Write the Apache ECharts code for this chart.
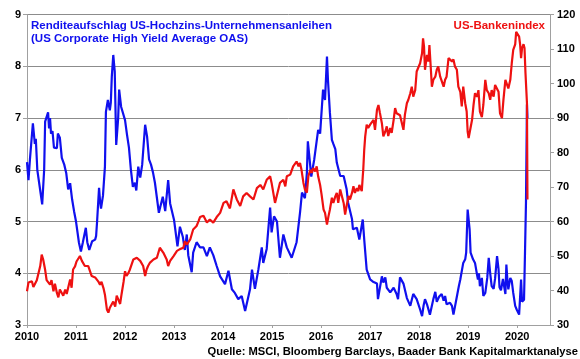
<!DOCTYPE html>
<html>
<head>
<meta charset="utf-8">
<script src="https://cdn.jsdelivr.net/npm/echarts@6/dist/echarts.min.js"></script>
<style>
html,body{margin:0;padding:0;background:#fff;}
#c{width:580px;height:359px;}
</style>
</head>
<body>
<div id="c"></div>
<script>
// Renditeaufschlag (left axis, %), x = decimal year
var hyYears = [2010.00,2010.03,2010.06,2010.12,2010.16,2010.18,2010.21,2010.27,2010.31,2010.35,2010.37,2010.40,2010.43,2010.45,2010.47,2010.49,2010.52,2010.55,2010.61,2010.63,2010.67,2010.71,2010.76,2010.80,2010.84,2010.88,2010.92,2010.96,2011.00,2011.06,2011.10,2011.14,2011.20,2011.23,2011.27,2011.33,2011.39,2011.41,2011.43,2011.47,2011.49,2011.51,2011.55,2011.59,2011.61,2011.65,2011.69,2011.71,2011.73,2011.76,2011.79,2011.82,2011.86,2011.88,2011.92,2011.96,2012.00,2012.04,2012.08,2012.12,2012.16,2012.20,2012.23,2012.27,2012.31,2012.35,2012.41,2012.45,2012.49,2012.53,2012.57,2012.61,2012.69,2012.77,2012.82,2012.88,2012.92,2013.00,2013.07,2013.12,2013.18,2013.22,2013.26,2013.29,2013.36,2013.39,2013.46,2013.53,2013.60,2013.67,2013.73,2013.80,2013.87,2013.94,2014.04,2014.11,2014.18,2014.24,2014.31,2014.38,2014.45,2014.48,2014.55,2014.59,2014.65,2014.72,2014.79,2014.82,2014.89,2014.96,2014.99,2015.04,2015.10,2015.16,2015.23,2015.30,2015.40,2015.50,2015.57,2015.61,2015.67,2015.71,2015.73,2015.80,2015.86,2015.94,2015.98,2016.04,2016.08,2016.12,2016.14,2016.18,2016.22,2016.25,2016.29,2016.32,2016.39,2016.46,2016.52,2016.55,2016.63,2016.65,2016.73,2016.78,2016.85,2016.88,2016.93,2017.00,2017.07,2017.14,2017.16,2017.24,2017.27,2017.31,2017.34,2017.41,2017.48,2017.54,2017.57,2017.61,2017.65,2017.68,2017.75,2017.82,2017.88,2017.95,2018.02,2018.06,2018.09,2018.12,2018.16,2018.22,2018.26,2018.29,2018.33,2018.36,2018.41,2018.46,2018.50,2018.53,2018.56,2018.63,2018.67,2018.70,2018.73,2018.78,2018.81,2018.84,2018.87,2018.90,2018.94,2018.96,2018.99,2019.01,2019.03,2019.05,2019.10,2019.14,2019.18,2019.20,2019.22,2019.24,2019.28,2019.31,2019.35,2019.37,2019.39,2019.42,2019.45,2019.48,2019.52,2019.55,2019.59,2019.62,2019.64,2019.67,2019.71,2019.76,2019.78,2019.80,2019.82,2019.86,2019.89,2019.92,2019.96,2019.99,2020.02,2020.04,2020.08,2020.10,2020.14,2020.16,2020.18,2020.20,2020.21];
var hyValues = [6.15,5.8,6.2,6.9,6.5,6.6,6.0,5.6,5.33,6.0,6.93,6.95,7.11,6.8,7.0,6.7,6.75,6.43,6.42,6.7,6.62,6.23,6.1,5.94,5.62,5.74,5.43,5.2,5.0,4.59,4.42,4.6,4.88,4.6,4.45,4.62,4.65,4.72,5.0,5.65,5.4,5.25,5.5,6.06,7.12,7.35,7.15,7.3,7.8,8.22,7.9,6.48,7.0,7.55,7.22,7.25,6.96,6.68,6.43,6.0,5.67,5.75,5.6,6.06,5.85,6.1,6.87,6.64,6.2,6.1,5.95,5.75,5.17,5.48,5.2,5.8,5.35,5.03,4.52,4.9,4.7,4.45,4.75,4.35,4.02,4.4,4.6,4.5,4.5,4.33,4.5,4.35,4.14,3.94,3.79,4.05,3.69,3.62,3.5,3.56,3.27,3.3,3.69,4.07,3.7,4.07,4.5,4.2,4.47,5.27,4.79,5.1,5.0,4.3,4.75,4.5,4.3,4.6,5.17,5.56,5.45,5.94,6.55,5.87,6.2,6.77,6.7,7.55,7.35,8.19,7.74,7.1,6.58,6.5,6.4,6.14,5.88,5.88,5.63,5.37,5.05,4.85,4.88,4.65,5.04,4.65,4.07,3.88,3.83,3.8,3.5,3.94,3.82,3.92,3.72,3.63,3.72,3.6,3.5,3.92,3.92,3.8,3.52,3.37,3.6,3.5,3.3,3.17,3.37,3.5,3.4,3.2,3.37,3.5,3.64,3.45,3.55,3.6,3.47,3.56,3.4,3.43,3.37,3.2,3.17,3.6,3.75,3.88,3.88,4.2,4.27,4.4,5.23,5.2,4.85,4.4,4.27,4.2,3.98,3.88,4.0,3.75,3.91,3.56,3.62,3.6,3.91,4.3,4.0,3.75,3.7,3.9,4.33,4.08,3.73,3.67,3.89,3.6,4.17,3.88,3.69,3.91,3.85,3.62,3.37,3.3,3.27,3.2,3.88,3.45,3.49,4.4,5.37,7.26,7.0];

// US-Bankenindex (right axis)
var bankYears = [2010.00,2010.03,2010.06,2010.10,2010.13,2010.20,2010.27,2010.30,2010.33,2010.37,2010.40,2010.43,2010.47,2010.50,2010.54,2010.57,2010.61,2010.64,2010.67,2010.71,2010.74,2010.78,2010.81,2010.84,2010.88,2010.91,2010.94,2010.98,2011.01,2011.08,2011.12,2011.15,2011.18,2011.25,2011.29,2011.32,2011.39,2011.46,2011.49,2011.52,2011.56,2011.59,2011.63,2011.66,2011.69,2011.73,2011.76,2011.80,2011.83,2011.86,2011.90,2011.93,2011.97,2012.00,2012.03,2012.07,2012.10,2012.14,2012.17,2012.24,2012.31,2012.34,2012.37,2012.41,2012.44,2012.47,2012.51,2012.58,2012.65,2012.71,2012.78,2012.85,2012.88,2012.92,2012.99,2013.06,2013.12,2013.19,2013.22,2013.26,2013.33,2013.39,2013.46,2013.50,2013.53,2013.60,2013.67,2013.73,2013.80,2013.87,2013.94,2014.01,2014.07,2014.14,2014.21,2014.28,2014.35,2014.41,2014.48,2014.55,2014.62,2014.69,2014.76,2014.82,2014.89,2014.96,2014.99,2015.06,2015.10,2015.16,2015.23,2015.27,2015.30,2015.37,2015.43,2015.50,2015.54,2015.57,2015.60,2015.64,2015.67,2015.71,2015.74,2015.78,2015.81,2015.84,2015.88,2015.91,2015.94,2015.98,2016.01,2016.05,2016.08,2016.12,2016.15,2016.18,2016.22,2016.25,2016.29,2016.32,2016.35,2016.39,2016.42,2016.46,2016.49,2016.52,2016.56,2016.59,2016.63,2016.66,2016.69,2016.73,2016.76,2016.78,2016.83,2016.85,2016.86,2016.88,2016.90,2016.93,2016.96,2017.00,2017.03,2017.07,2017.10,2017.14,2017.17,2017.20,2017.24,2017.27,2017.31,2017.34,2017.37,2017.41,2017.44,2017.48,2017.51,2017.54,2017.58,2017.61,2017.65,2017.68,2017.71,2017.75,2017.78,2017.82,2017.85,2017.88,2017.92,2017.95,2017.99,2018.02,2018.06,2018.08,2018.10,2018.12,2018.16,2018.19,2018.21,2018.24,2018.26,2018.29,2018.33,2018.36,2018.39,2018.43,2018.46,2018.50,2018.53,2018.56,2018.60,2018.63,2018.67,2018.70,2018.73,2018.77,2018.80,2018.84,2018.87,2018.90,2018.94,2018.97,2018.99,2019.01,2019.04,2019.08,2019.11,2019.14,2019.18,2019.21,2019.24,2019.28,2019.31,2019.35,2019.38,2019.42,2019.45,2019.48,2019.52,2019.55,2019.59,2019.62,2019.65,2019.69,2019.72,2019.76,2019.79,2019.82,2019.86,2019.89,2019.92,2019.96,2019.98,2020.01,2020.04,2020.06,2020.08,2020.10,2020.13,2020.15,2020.17,2020.20,2020.21];
var bankValues = [39.8,42.3,41.8,42.7,41,43,47.1,50.4,49,46,43,43.5,41.7,43,39.8,42,39.3,38,40.3,39.8,38.5,40.3,39,40.8,43.2,40.8,46.1,47,48.4,50.0,48.6,48.1,47.1,47.1,46.7,44.2,43.8,42.5,41.7,42.5,40.7,38.8,34.5,33.6,35.0,35.3,36.8,35.3,38.5,37.5,36.1,39.0,42.5,45.6,44.2,45.1,46.1,45.6,49.0,49.5,48.6,49.0,47.1,44.2,46.1,47.1,48.1,49.0,49.5,52.4,51.0,49.0,47.1,48.6,50.0,51.5,52.0,52.4,54.3,53.3,54.8,57.7,58.7,60.1,61.3,61.7,59.7,60.6,59.7,61.3,62.5,65.4,65.9,63.8,69.3,66.4,64.5,67.3,68.3,67.3,66.4,69.7,70.6,69.3,72.1,73.1,71.2,65.4,65.9,71.2,72.1,70.2,73.1,73.6,76.0,77.4,76.0,77.0,75.0,71.2,69.3,68.4,73.1,75.0,74.1,75.5,74.5,76.0,73.1,70.6,67.8,63.5,62.5,59.1,61.5,63.5,66.9,65.4,67.3,68.3,65.4,69.3,68.8,65.4,62.0,64.5,67.4,66.4,68.3,70.2,68.3,69.7,68.8,70.6,68.8,73.1,75.0,80.8,84.7,88.1,87.1,88.1,87.6,89.5,86.6,92.4,93.8,91.5,88.5,84.7,86.1,87.6,84.8,87.1,85.7,89.5,92.9,91.4,91.9,90.8,90.3,86.6,91.0,94.3,95.3,97.2,99.1,96.2,98.1,103.5,104.0,105.9,108.8,113.1,110.7,104.0,108.3,106.4,111.2,104.0,99.1,101.1,102.0,104.0,105.0,102.0,101.5,99.1,101.1,102.0,107.4,107.0,106.4,107.0,105.0,104.0,99.1,97.6,93.4,99.1,94.3,91.9,86.1,84.2,84.7,89.5,93.8,97.2,96.2,98.1,91.9,90.3,93.8,101.1,98.1,97.2,95.3,98.1,96.2,99.6,100.1,97.6,91.4,90.0,95.3,101.1,101.5,98.6,101.1,105.9,109.8,111.4,115.0,114.5,113.6,111.4,107.4,110.3,111.4,110.3,103.0,94.3,66.4];

var yearTicks = [2010,2011,2012,2013,2014,2015,2016,2017,2018,2019,2020];
var titleText = 'Renditeaufschlag US-Hochzins-Unternehmensanleihen\n(US Corporate High Yield Average OAS)';
var bankTitle = 'US-Bankenindex';
var sourceText = 'Quelle: MSCI, Bloomberg Barclays, Baader Bank Kapitalmarktanalyse';

function zip(a, b) { return a.map(function (v, i) { return [v, b[i]]; }); }

var FONT = '"Liberation Sans", Arial, sans-serif';
var chart = echarts.init(document.getElementById('c'), null, {renderer: 'canvas'});
chart.setOption({
  animation: false,
  backgroundColor: '#ffffff',
  title: [
    {text: titleText, left: 31, top: 19, padding: 0,
     textStyle: {color: '#1010EE', fontFamily: FONT, fontWeight: 'bold', fontSize: 11.5, lineHeight: 13}},
    {text: bankTitle, right: 35, top: 20, padding: 0,
     textStyle: {color: '#EE1111', fontFamily: FONT, fontWeight: 'bold', fontSize: 11.5}},
    {text: sourceText, right: 2, top: 346, padding: 0,
     textStyle: {color: '#000', fontFamily: FONT, fontWeight: 'bold', fontSize: 11.2}}
  ],
  grid: {left: 27, right: 30, top: 14.6, bottom: 34, containLabel: false},
  xAxis: {
    type: 'value', min: 2010, max: 2020.67, interval: 1,
    axisLine: {show: true, lineStyle: {color: '#A0A0A0', width: 1}},
    axisTick: {show: true, inside: false, length: 3, lineStyle: {color: '#A0A0A0'}},
    splitLine: {show: false},
    axisLabel: {
      margin: 6, color: '#000', fontFamily: FONT, fontWeight: 'bold', fontSize: 11,
      showMaxLabel: false,
      formatter: function (v) { return yearTicks.indexOf(Math.round(v)) >= 0 && Math.abs(v - Math.round(v)) < 1e-6 ? String(Math.round(v)) : ''; }
    }
  },
  yAxis: [
    {type: 'value', min: 3, max: 9, interval: 1, position: 'left',
     axisLine: {show: true, lineStyle: {color: '#A0A0A0'}},
     axisTick: {show: true, length: 4, lineStyle: {color: '#A0A0A0'}},
     splitLine: {show: true, lineStyle: {color: '#8C8C8C', width: 1}},
     axisLabel: {margin: 6, color: '#000', fontFamily: FONT, fontWeight: 'bold', fontSize: 11}},
    {type: 'value', min: 30, max: 120, interval: 10, position: 'right',
     axisLine: {show: true, lineStyle: {color: '#A0A0A0'}},
     axisTick: {show: true, length: 4, lineStyle: {color: '#A0A0A0'}},
     splitLine: {show: false},
     axisLabel: {margin: 7, color: '#000', fontFamily: FONT, fontWeight: 'bold', fontSize: 11}}
  ],
  series: [
    {name: 'HY OAS', type: 'line', yAxisIndex: 0, data: zip(hyYears, hyValues),
     showSymbol: false, symbol: 'none', lineStyle: {color: '#1010EE', width: 2.2}, z: 2},
    {name: 'US-Bankenindex', type: 'line', yAxisIndex: 1, data: zip(bankYears, bankValues),
     showSymbol: false, symbol: 'none', lineStyle: {color: '#EE1111', width: 2.2}, z: 3}
  ]
});
</script>
</body>
</html>
